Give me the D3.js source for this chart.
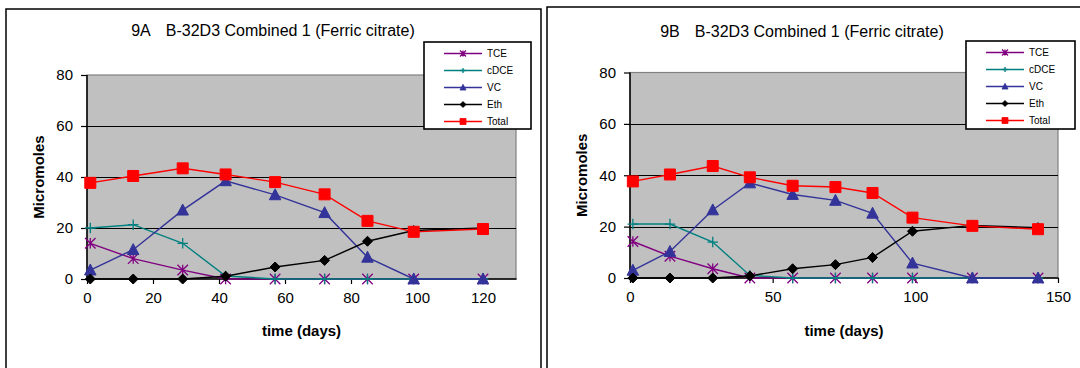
<!DOCTYPE html>
<html>
<head>
<meta charset="utf-8">
<script src="https://cdn.jsdelivr.net/npm/d3@7"></script>
<style>
  html, body { margin: 0; padding: 0; background: #fff; }
  svg { display: block; font-family: "Liberation Sans", Arial, sans-serif; }
</style>
</head>
<body>
<svg id="chart" width="1080" height="368"></svg>
<script>
// Series names, in drawing order
const seriesNames = ["TCE", "cDCE", "VC", "Eth", "Total"];

// 9A sampling days and concentrations (micromoles)
const daysA  = [1, 14, 29, 42, 57, 72, 85, 99, 120];
const tceA   = [14, 8, 3.5, 0, 0, 0, 0, 0, 0];
const cdceA  = [20, 21.3, 14, 1.2, 0, 0, 0, 0, 0];
const vcA    = [3.5, 11.5, 27, 38.5, 33, 26, 8.5, 0, 0];
const ethA   = [0, 0, 0, 1.1, 4.7, 7.3, 14.8, 19, 20];
const totalA = [37.7, 40.4, 43.4, 41, 38, 33.2, 22.8, 18.5, 19.6];

// 9B sampling days and concentrations (micromoles)
const daysB  = [1, 14, 29, 42, 57, 72, 85, 99, 120, 143];
const tceB   = [14.2, 8.5, 3.6, 0, 0, 0, 0, 0, 0, 0];
const cdceB  = [21, 21, 14, 1, 0, 0, 0, 0, 0, 0];
const vcB    = [3, 10.3, 26.5, 37, 32.5, 30.2, 25.2, 5.8, 0, 0];
const ethB   = [0, 0, 0, 0.8, 3.6, 5.2, 8, 18.2, 20.5, 19.6];
const totalB = [37.6, 40.3, 43.6, 39.2, 35.9, 35.4, 33.1, 23.5, 20.3, 19];

// Axis ticks
const yTicks  = [0, 20, 40, 60, 80];
const xTicksA = [0, 20, 40, 60, 80, 100, 120];
const xTicksB = [0, 50, 100, 150];

const titleA = ["9A", "B-32D3 Combined 1 (Ferric citrate)"];
const titleB = ["9B", "B-32D3 Combined 1 (Ferric citrate)"];

const colors = {
  TCE: "#800080",
  cDCE: "#008080",
  VC: "#333399",
  Eth: "#000000",
  Total: "#ff0000"
};

// Marker glyph paths centred on (0,0), scaled by s
function markerPath(name, s) {
  const h = s / 2;
  switch (name) {
    case "TCE":   // asterisk
      return `M${-h},${-h}L${h},${h}M${-h},${h}L${h},${-h}M0,${-h}L0,${h}`;
    case "cDCE":  // plus
      return `M${-h},0L${h},0M0,${-h}L0,${h}`;
    case "VC":    // triangle
      return `M0,${-h * 1.05}L${h},${h * 0.85}L${-h},${h * 0.85}Z`;
    case "Eth":   // diamond
      return `M0,${-h}L${h},0L0,${h}L${-h},0Z`;
    case "Total": // square
      return `M${-h},${-h}H${h}V${h}H${-h}Z`;
  }
}
const markerSize = { TCE: 10.5, cDCE: 10.5, VC: 11.5, Eth: 10, Total: 11 };
const filled = { TCE: false, cDCE: false, VC: true, Eth: true, Total: true };

const svg = d3.select("#chart");

function drawPanel(p) {
  const g = svg.append("g");

  // panel frame
  g.append("rect")
    .attr("x", p.frame[0]).attr("y", p.frame[1])
    .attr("width", p.frame[2]).attr("height", p.frame[3])
    .attr("fill", "#fff").attr("stroke", "#000").attr("stroke-width", 1.5);

  const x = d3.scaleLinear().domain(p.xDomain).range([p.left, p.right]);
  const y = d3.scaleLinear().domain([0, 80]).range([p.bottom, p.top]);

  // plot area
  g.append("rect")
    .attr("x", p.left).attr("y", p.top)
    .attr("width", p.right - p.left).attr("height", p.bottom - p.top)
    .attr("fill", "#c0c0c0").attr("stroke", "#808080").attr("stroke-width", 1.2);

  // horizontal gridlines
  g.append("g").selectAll("line")
    .data(yTicks.filter(v => v > 0 && v < 80))
    .join("line")
    .attr("x1", p.left).attr("x2", p.right)
    .attr("y1", d => Math.round(y(d)) + 0.5).attr("y2", d => Math.round(y(d)) + 0.5)
    .attr("stroke", "#000").attr("stroke-width", 1.2);

  // axes
  const yAxis = g.append("g")
    .attr("transform", `translate(${p.left},0)`)
    .call(d3.axisLeft(y).tickValues(yTicks).tickSize(6).tickPadding(8).tickFormat(d3.format("d")));
  const xAxis = g.append("g")
    .attr("transform", `translate(0,${p.bottom})`)
    .call(d3.axisBottom(x).tickValues(p.xTicks).tickSize(5).tickPadding(8).tickFormat(d3.format("d")));
  [yAxis, xAxis].forEach(a => {
    a.select(".domain").attr("stroke", "#000").attr("stroke-width", 1.5);
    a.selectAll(".tick line").attr("stroke", "#000").attr("stroke-width", 1.2);
    a.selectAll(".tick text")
      .attr("fill", "#000")
      .style("font-size", "15px")
      .style("font-family", "Liberation Sans, Arial, sans-serif");
  });
  xAxis.select(".domain").attr("d", `M${p.left},0H${p.right + 0.5}`);
  yAxis.select(".domain").attr("d", `M0,${p.bottom}V${p.top}`);

  // series lines and markers
  const line = d3.line().x(d => x(d[0])).y(d => y(d[1]));
  seriesNames.forEach((name, i) => {
    const pts = p.days.map((d, j) => [d, p.values[i][j]]);
    g.append("path")
      .datum(pts)
      .attr("d", line)
      .attr("fill", "none")
      .attr("stroke", colors[name])
      .attr("stroke-width", 1.4);
    g.append("g").selectAll("path")
      .data(pts)
      .join("path")
      .attr("transform", d => `translate(${x(d[0])},${y(d[1])})`)
      .attr("d", markerPath(name, markerSize[name]))
      .attr("fill", filled[name] ? colors[name] : "none")
      .attr("stroke", colors[name])
      .attr("stroke-width", filled[name] ? 1 : 1.3);
  });

  // title
  const t = g.append("text")
    .attr("x", p.titleX).attr("y", p.titleY)
    .attr("text-anchor", "middle")
    .style("font-size", "16px")
    .attr("fill", "#000");
  t.append("tspan").text(p.title[0]);
  t.append("tspan").attr("dx", 15).text(p.title[1]);

  // axis titles
  g.append("text")
    .attr("transform", `translate(${p.yLabelX},${(p.top + p.bottom) / 2}) rotate(-90)`)
    .attr("text-anchor", "middle")
    .attr("dy", "0.35em")
    .style("font-size", "15px").style("font-weight", "bold")
    .text("Micromoles");
  g.append("text")
    .attr("x", (p.left + p.right) / 2).attr("y", 336)
    .attr("text-anchor", "middle")
    .style("font-size", "15px").style("font-weight", "bold")
    .text("time (days)");

  // legend
  const L = p.legend;
  g.append("rect")
    .attr("x", L.x).attr("y", L.y).attr("width", L.w).attr("height", L.h)
    .attr("fill", "#fff").attr("stroke", "#000").attr("stroke-width", 1.6);
  seriesNames.forEach((name, i) => {
    const ry = L.y + 11.5 + i * 17;
    const lx0 = L.x + 20, lx1 = L.x + 58;
    g.append("line")
      .attr("x1", lx0).attr("x2", lx1).attr("y1", ry).attr("y2", ry)
      .attr("stroke", colors[name]).attr("stroke-width", 1.6);
    g.append("path")
      .attr("transform", `translate(${(lx0 + lx1) / 2},${ry})`)
      .attr("d", markerPath(name, name === "cDCE" ? 5 : 6))
      .attr("fill", filled[name] ? colors[name] : "none")
      .attr("stroke", colors[name]).attr("stroke-width", filled[name] ? 0.8 : 1.3);
    g.append("text")
      .attr("x", L.x + 63).attr("y", ry).attr("dy", "0.35em")
      .style("font-size", "10px").attr("fill", "#000")
      .text(name);
  });
}

drawPanel({
  frame: [6, 9, 535, 380],
  left: 87, right: 516, top: 75, bottom: 279,
  xDomain: [0, 130], xTicks: xTicksA,
  days: daysA, values: [tceA, cdceA, vcA, ethA, totalA],
  title: titleA, titleX: 273, titleY: 36,
  yLabelX: 39,
  legend: { x: 424, y: 42, w: 107, h: 87 }
});

drawPanel({
  frame: [547, 7, 560, 380],
  left: 630, right: 1058, top: 72.5, bottom: 278,
  xDomain: [0, 150], xTicks: xTicksB,
  days: daysB, values: [tceB, cdceB, vcB, ethB, totalB],
  title: titleB, titleX: 802, titleY: 37,
  yLabelX: 582,
  legend: { x: 966, y: 41, w: 109, h: 88 }
});
</script>
</body>
</html>
